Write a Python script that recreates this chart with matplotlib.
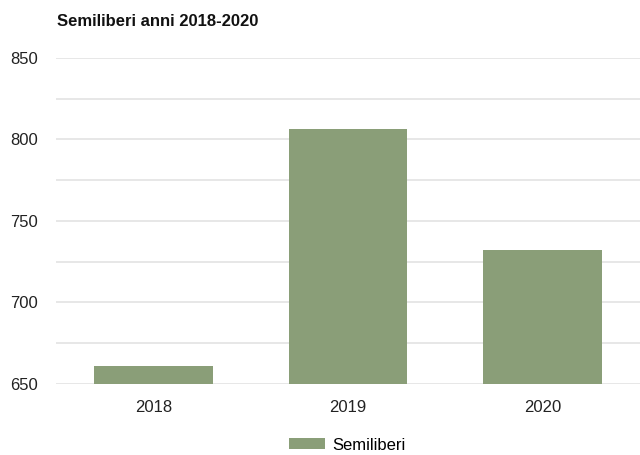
import matplotlib.pyplot as plt
from matplotlib.ticker import MultipleLocator

plt.rcParams['font.family'] = ['Liberation Sans', 'DejaVu Sans']

# data
years = ['2018', '2019', '2020']
semiliberi = [661, 806.5, 732]

fig = plt.figure(figsize=(6.4, 4.55), dpi=100)
ax = fig.add_axes([56/640, 1 - 383.7/455, 1 - 56/640, (383.7 - 58)/455])

ax.bar(years, semiliberi, width=0.61, color='#8A9E78', label='Semiliberi', zorder=3)

ax.set_ylim(650, 850)
ax.set_xlim(-0.5, 2.5)
ax.yaxis.set_major_locator(MultipleLocator(50))
ax.yaxis.set_minor_locator(MultipleLocator(25))
ax.grid(True, axis='y', which='both', color='#e3e3e3', linewidth=1.2, zorder=0)

for s in ax.spines.values():
    s.set_visible(False)
ax.tick_params(axis='both', which='both', length=0, labelsize=12, colors='#222222')
ax.tick_params(axis='y', pad=13)
ax.tick_params(axis='x', pad=12)

fig.text(57/640, 1 - 21/455, 'Semiliberi anni 2018-2020', fontsize=12,
         fontweight='bold', ha='left', va='center', color='#111111')

fig.legend(loc='center', bbox_to_anchor=(347/640, 1 - 445/455), frameon=False,
           fontsize=12, handlelength=2.15, handleheight=0.6, handletextpad=0.45)

fig.savefig('out.png', dpi=100)
